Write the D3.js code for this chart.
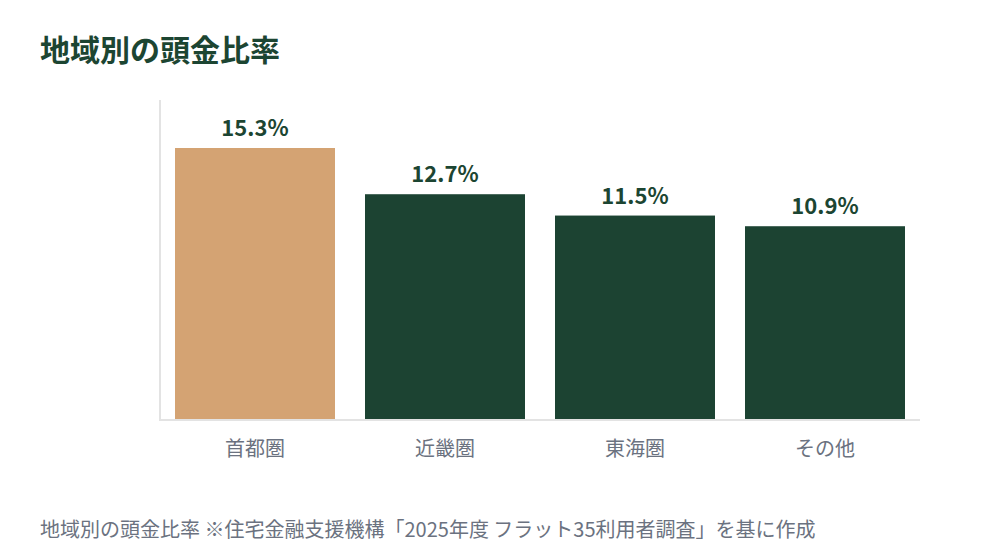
<!DOCTYPE html>
<html>
<head>
<meta charset="utf-8">
<script src="https://cdn.jsdelivr.net/npm/d3@7"></script>
<style>
  body { margin: 0; background: #fff; font-family: "Noto Sans CJK JP", "Noto Sans", sans-serif; }
</style>
</head>
<body>
<div id="chart-container"></div>
<script>
// data
const regions = ["首都圏", "近畿圏", "東海圏", "その他"];
const downPaymentRates = [15.3, 12.7, 11.5, 10.9];
const barColors = ["#d4a373", "#1c4332", "#1c4332", "#1c4332"];

const width = 1000;
const height = 560;
const marginLeft = 160, marginRight = 80, marginTop = 100, marginBottom = 140;

const svg = d3.select("#chart-container")
  .append("svg")
  .attr("width", width)
  .attr("height", height);

// title
svg.append("text")
  .attr("x", 40)
  .attr("y", 61)
  .style("font-size", "30px")
  .style("font-weight", "700")
  .style("fill", "#1c4532")
  .text("地域別の頭金比率");

// scales
const x = d3.scaleBand()
  .domain(regions)
  .range([marginLeft, width - marginRight])
  .paddingInner(30 / 190)
  .paddingOuter(15 / 190);

const y = d3.scaleLinear()
  .domain([0, 18])
  .range([height - marginBottom, marginTop]);

// axis lines
svg.append("line")
  .attr("x1", marginLeft).attr("x2", marginLeft)
  .attr("y1", y(18)).attr("y2", y(0))
  .attr("stroke", "#e3e3e3").attr("stroke-width", 2);

// bars
svg.selectAll("rect.bar")
  .data(regions)
  .enter()
  .append("rect")
  .attr("class", "bar")
  .attr("x", (d) => x(d))
  .attr("y", (d, i) => y(downPaymentRates[i]))
  .attr("width", x.bandwidth())
  .attr("height", (d, i) => y(0) - y(downPaymentRates[i]))
  .attr("fill", (d, i) => barColors[i]);

svg.append("line")
  .attr("x1", marginLeft - 1).attr("x2", width - marginRight)
  .attr("y1", y(0)).attr("y2", y(0))
  .attr("stroke", "#e3e3e3").attr("stroke-width", 2);

// value labels
svg.selectAll("text.value")
  .data(regions)
  .enter()
  .append("text")
  .attr("class", "value")
  .attr("x", (d) => x(d) + x.bandwidth() / 2)
  .attr("y", (d, i) => y(downPaymentRates[i]) - 12)
  .style("text-anchor", "middle")
  .style("font-size", "22px")
  .style("font-weight", "700")
  .style("fill", "#1c4532")
  .text((d, i) => downPaymentRates[i].toFixed(1) + "%");

// category labels
const xAxis = svg.append("g")
  .attr("transform", "translate(0," + y(0) + ")")
  .call(d3.axisBottom(x).tickSize(0).tickPadding(22));
xAxis.select(".domain").remove();
xAxis.selectAll("text")
  .style("font-family", '"Noto Sans CJK JP", sans-serif')
  .style("font-size", "20px")
  .style("fill", "#6b7280");

// source note
svg.append("text")
  .attr("x", 40)
  .attr("y", 537)
  .style("font-size", "20px")
  .style("fill", "#6b7280")
  .text("地域別の頭金比率 ※住宅金融支援機構「2025年度 フラット35利用者調査」を基に作成");
</script>
</body>
</html>
